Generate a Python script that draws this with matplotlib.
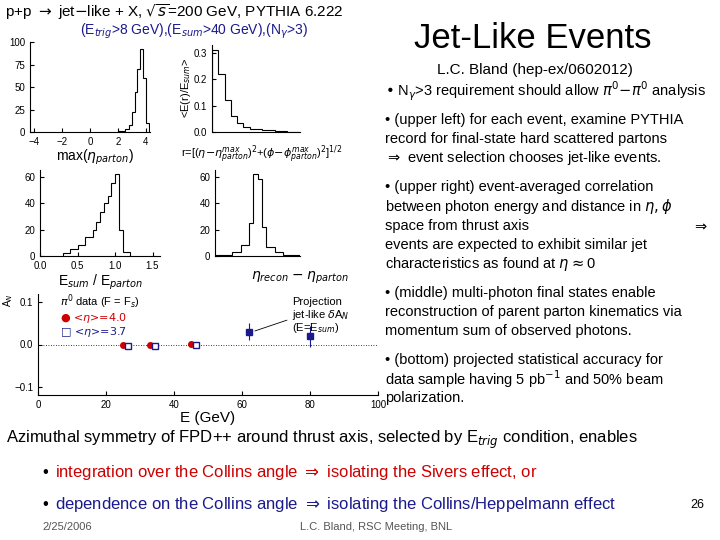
import matplotlib
matplotlib.use("Agg")
import matplotlib.pyplot as plt
import numpy as np

plt.rcParams['font.family'] = ['Liberation Sans', 'DejaVu Sans']

# ---- data ----
eta_bins = [2.0, 2.5, 2.8, 3.0, 3.2, 3.4, 3.6, 3.8, 4.0, 4.2]
eta_counts = [1, 3, 8, 22, 45, 70, 92, 60, 10]
r_bins = [0, 0.05, 0.1, 0.15, 0.2, 0.25, 0.3, 0.4, 0.5, 0.6, 0.7]
r_vals = [0.31, 0.22, 0.12, 0.06, 0.035, 0.02, 0.012, 0.006, 0.003, 0.001]
esum_bins = [0.3, 0.4, 0.5, 0.6, 0.7, 0.75, 0.8, 0.85, 0.9, 0.95, 1.0, 1.05, 1.1, 1.2]
esum_counts = [2, 5, 8, 14, 20, 26, 33, 40, 45, 55, 62, 20, 3]
deta_bins = [-1.0, -0.6, -0.4, -0.2, -0.1, 0.0, 0.1, 0.2, 0.4, 0.6, 1.0]
deta_counts = [1, 3, 8, 25, 62, 58, 22, 7, 3, 1]
E_data = [25, 33, 45]
AN_red = [-0.002, 0.0, 0.002]
AN_red_err = [0.006, 0.006, 0.007]
AN_blue = [-0.004, -0.003, -0.002]
AN_blue_err = [0.004, 0.005, 0.006]
E_proj = [62, 80]
AN_proj = [0.03, 0.02]
AN_proj_err = [0.02, 0.025]

W, H = 720, 540
fig = plt.figure(figsize=(7.2, 5.4), dpi=100)

def ax_px(x0, y0, x1, y1):
    return fig.add_axes([x0 / W, 1 - y1 / H, (x1 - x0) / W, (y1 - y0) / H])

def T(x, y, s, **kw):
    fig.text(x / W, 1 - y / H, s, **kw)

def style(ax):
    for sp in ['top', 'right']:
        ax.spines[sp].set_visible(False)
    ax.tick_params(labelsize=7, direction='in', length=3)

# header
T(5, 12, r"p+p $\rightarrow$ jet$-$like + X, $\sqrt{s}$=200 GeV, PYTHIA 6.222", fontsize=11, va='center')
T(80, 31, r"(E$_{trig}$>8 GeV),(E$_{sum}$>40 GeV),(N$_\gamma$>3)", fontsize=10, va='center', color='#1a1a8c')
T(533, 38, "Jet-Like Events", fontsize=25, ha='center', va='center')
T(535, 70, "L.C. Bland (hep-ex/0602012)", fontsize=11, ha='center', va='center')

# panel 1
ax = ax_px(30, 42, 150, 132)
ax.stairs(eta_counts, eta_bins, color='k', lw=0.8)
ax.set_xlim(-4.3, 4.3); ax.set_ylim(0, 100)
ax.set_xticks([-4, -2, 0, 2, 4]); ax.set_yticks([0, 25, 50, 75, 100])
style(ax)
T(95, 157, r"max($\eta_{parton}$)", fontsize=10, ha='center', va='center')

# panel 2
ax = ax_px(212, 45, 300, 132)
ax.stairs(r_vals, r_bins, color='k', lw=0.8)
ax.set_xlim(0, 0.7); ax.set_ylim(0, 0.33)
ax.set_xticks([]); ax.set_yticks([0, 0.1, 0.2, 0.3])
style(ax)
T(186, 88, r"<E(r)/E$_{sum}$>", fontsize=8, rotation=90, ha='center', va='center')
T(262, 155, r"r=[($\eta$$-\eta^{max}_{parton}$)$^2$+($\phi$$-\phi^{max}_{parton}$)$^2$]$^{1/2}$", fontsize=8, ha='center', va='center')

# panel 3
ax = ax_px(40, 170, 160, 256)
ax.stairs(esum_counts, esum_bins, color='k', lw=0.8)
ax.set_xlim(0, 1.6); ax.set_ylim(0, 65)
ax.set_xticks([0, 0.5, 1, 1.5]); ax.set_yticks([0, 20, 40, 60])
style(ax)
T(100, 282, r"E$_{sum}$ / E$_{parton}$", fontsize=10, ha='center', va='center')

# panel 4
ax = ax_px(215, 170, 300, 256)
ax.stairs(deta_counts, deta_bins, color='k', lw=0.8)
ax.set_xlim(-1, 1); ax.set_ylim(0, 65)
ax.set_xticks([]); ax.set_yticks([0, 20, 40, 60])
style(ax)
T(300, 278, r"$\eta_{recon}$ $-$ $\eta_{parton}$", fontsize=10, ha='center', va='center')

# panel 5
ax = ax_px(38, 294, 378, 395)
ax.axhline(0, color='k', lw=0.6, ls=(0, (1, 2)))
ax.errorbar(E_data, AN_red, yerr=AN_red_err, fmt='o', color='#cc0000', ms=4, lw=0.8)
ax.errorbar([e + 1.5 for e in E_data], AN_blue, yerr=AN_blue_err, fmt='s', mfc='white', mec='#1a1a8c', color='#1a1a8c', ms=4, lw=0.8)
ax.errorbar(E_proj, AN_proj, yerr=AN_proj_err, fmt='s', color='#1a1a8c', mfc='#1a1a8c', ms=4, lw=0.8)
ax.set_xlim(0, 100); ax.set_ylim(-0.12, 0.12)
ax.set_xticks([0, 20, 40, 60, 80, 100]); ax.set_yticks([-0.1, 0, 0.1])
ax.set_xlabel("E (GeV)", fontsize=11, labelpad=1)
style(ax)
ax.annotate("", xy=(63, 0.03), xytext=(74, 0.06), arrowprops=dict(arrowstyle='-', color='k', lw=0.6))
T(1, 300, r"A$_N$", fontsize=7, rotation=90, va='center')
T(60, 302, r"$\pi^0$ data (F = F$_s$)", fontsize=8, va='center')
T(60, 318, r"● <$\eta$>=4.0", fontsize=8, va='center', color='#cc0000', family=['DejaVu Sans'])
T(60, 332, r"□ <$\eta$>=3.7", fontsize=8, va='center', color='#1a1a8c', family=['DejaVu Sans'])
T(292, 302, "Projection", fontsize=8, va='center')
T(292, 315, r"jet-like $\delta$A$_N$", fontsize=8, va='center')
T(292, 328, r"(E=E$_{sum}$)", fontsize=8, va='center')

# right bullets
fs = 10.5
T(385, 91, r"• N$_\gamma$>3 requirement should allow $\pi^0$$-$$\pi^0$ analysis", fontsize=fs, va='center')
lines = [
    (120, "• (upper left) for each event, examine PYTHIA"),
    (139, "record for final-state hard scattered partons"),
    (158, r"$\Rightarrow$ event selection chooses jet-like events."),
    (187, "• (upper right) event-averaged correlation"),
    (206, r"between photon energy and distance in $\eta,\phi$"),
    (226, "space from thrust axis"),
    (245, "events are expected to exhibit similar jet"),
    (264, r"characteristics as found at $\eta\approx$0"),
    (293, "• (middle) multi-photon final states enable"),
    (312, "reconstruction of parent parton kinematics via"),
    (331, "momentum sum of observed photons."),
    (360, r"• (bottom) projected statistical accuracy for"),
    (379, r"data sample having 5 pb$^{-1}$ and 50% beam"),
    (398, "polarization."),
]
for y, s in lines:
    T(385, y, s, fontsize=fs, va='center')
T(708, 226, r"$\Rightarrow$", fontsize=fs, va='center', ha='right')

# bottom text
T(6, 440, r"Azimuthal symmetry of FPD++ around thrust axis, selected by E$_{trig}$ condition, enables", fontsize=12, va='center')
T(42, 472, "•", fontsize=12, va='center', color='k')
T(55, 472, r"integration over the Collins angle $\Rightarrow$ isolating the Sivers effect, or", fontsize=12, va='center', color='#cc0000')
T(42, 505, "•", fontsize=12, va='center', color='k')
T(55, 505, r"dependence on the Collins angle $\Rightarrow$ isolating the Collins/Heppelmann effect", fontsize=12, va='center', color='#1a1a8c')
T(42, 527, "2/25/2006", fontsize=8, va='center', color='#555555')
T(300, 527, "L.C. Bland, RSC Meeting, BNL", fontsize=8, va='center', color='#555555')
T(690, 505, "26", fontsize=9, va='center')

fig.savefig("out.png", dpi=100)
